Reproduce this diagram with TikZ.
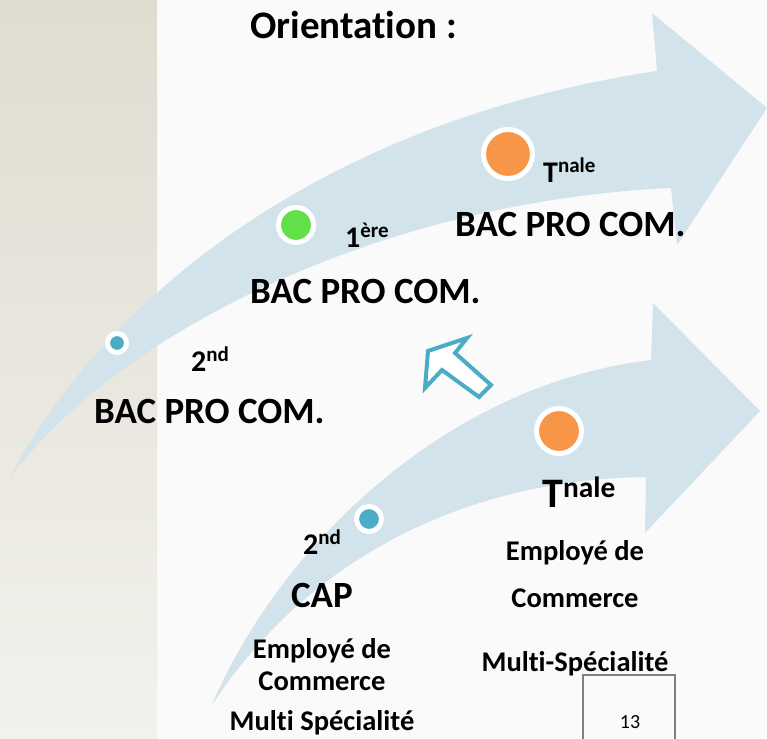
\documentclass[tikz,border=0pt]{standalone}
\usepackage{fontspec}
\setmainfont{Carlito}[Ligatures=NoCommon]
\definecolor{band}{RGB}{210,227,235}
\definecolor{dotblue}{RGB}{75,172,198}
\definecolor{dotgreen}{RGB}{98,224,74}
\definecolor{dotorange}{RGB}{247,150,70}
\definecolor{sidetop}{RGB}{223,220,208}
\definecolor{sidebot}{RGB}{242,241,236}
\begin{document}
\begin{tikzpicture}[x=1pt,y=-1pt,
	big/.style={font=\bfseries\fontsize{37}{40}\selectfont, inner sep=0, anchor=base west},
	mid/.style={font=\bfseries\fontsize{30}{34}\selectfont, inner sep=0, anchor=base west},
	small/.style={font=\bfseries\fontsize{28.5}{31}\selectfont, inner sep=0, anchor=base},
	dot/.style={circle, draw=white, line width=5pt, inner sep=0}]
	% background
	\useasboundingbox (0,0) rectangle (767,738);
	\fill[white!98!black] (157,0) rectangle (767,738);
	\shade[top color=sidetop, bottom color=sidebot] (0,0) rectangle (157,738);
	% the two arrows
	\fill[band] (10,477) .. controls (110,290) and (330,120) .. (657,71) -- (652,13) -- (767,108) -- (677,245) -- (671,188) .. controls (400,200) and (130,320) .. (10,477) -- cycle;
	\fill[band] (212,705) .. controls (275,555) and (440,385) .. (651,360) -- (653,303) -- (760,411) -- (645,533) -- (646,477) .. controls (450,480) and (300,570) .. (212,705) -- cycle;
	% hollow arrow
	\draw[dotblue, fill=white, line width=4pt, line join=miter] (428,351) -- (467,338) -- (455,353) -- (491,385) -- (479,397) -- (442,370) -- (425,388) -- cycle;
	% dots
	\node[dot, fill=dotblue, minimum size=19pt] (p2nd) at (117,343) {};
	\node[dot, fill=dotgreen, minimum size=35pt] (p1ere) at (296,225) {};
	\node[dot, fill=dotorange, minimum size=49pt] (ptle) at (508,154) {};
	\node[dot, fill=dotblue, minimum size=25pt] (c2nd) at (369,519) {};
	\node[dot, fill=dotorange, minimum size=45pt] (ctle) at (559,431) {};
	% texts
	\node[big, font=\bfseries\fontsize{39}{42}\selectfont] (orient) at (250,39) {Orientation :};
	\node[mid] (l2nd) at (191,371) {2\textsuperscript{nd}};
	\node[big] (bac1) at (94,423) {BAC PRO COM.};
	\node[mid] (l1ere) at (345,247) {1\textsuperscript{ère}};
	\node[big] (bac2) at (250,303) {BAC PRO COM.};
	\node[mid] (ltle) at (543,182) {T\textsuperscript{nale}};
	\node[big] (bac3) at (455,236) {BAC PRO COM.};
	\node[mid] (c2ndlbl) at (303,554) {2\textsuperscript{nd}};
	\node[big, anchor=base] (cap) at (322,607) {CAP};
	\node[small] (cemp) at (322,658) {Employé de};
	\node[small] (ccom) at (322,690) {Commerce};
	\node[small] (cmul) at (322,730) {Multi Spécialité};
	\node[font=\bfseries\fontsize{42}{44}\selectfont, inner sep=0, anchor=base west] (ttle) at (542,507) {T\textsuperscript{nale}};
	\node[small] (temp) at (575,560) {Employé de};
	\node[small] (tcom) at (575,607) {Commerce};
	\node[small] (tmul) at (575,671) {Multi-Spécialité};
	% page number
	\draw[gray, line width=2pt] (583,741) -- (583,675) -- (675,675) -- (675,741);
	\node[font=\fontsize{20}{22}\selectfont, inner sep=0] (pnum) at (630,722) {13};
\end{tikzpicture}
\end{document}
